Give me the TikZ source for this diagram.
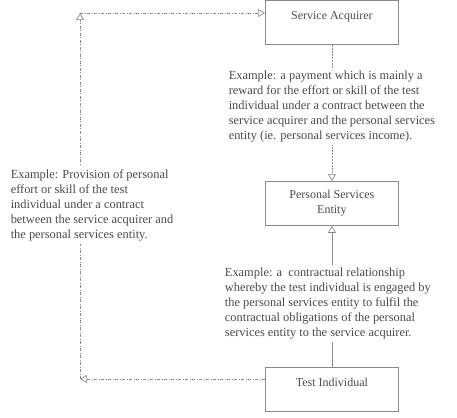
\documentclass[tikz,border=0pt]{standalone}
\usepackage{fontspec}
\setmainfont{Liberation Serif}
\usetikzlibrary{arrows.meta,calc}
\definecolor{txt}{HTML}{4A4A4A}
\definecolor{ln}{HTML}{8A8A8A}
\begin{document}
\begin{tikzpicture}[x=1pt,y=-1pt,
  box/.style={draw=ln,line width=0.8pt,minimum width=133pt,minimum height=44pt,inner sep=0pt,align=center,text=txt,font=\fontsize{12}{15}\selectfont,anchor=north west},
  lbl/.style={fill=white,align=left,text=txt,font=\fontsize{12.4}{15}\selectfont,inner sep=3pt},
  conn/.style={draw=ln,line width=0.7pt,-{Triangle[open,length=7pt,width=8pt]}},
  dd/.style={conn,dash pattern=on 3pt off 1.5pt on 1pt off 1.5pt}
]
\path[use as bounding box] (0,0) rectangle (457,417);
\node[box] (SA) at (265,0.5) {Service Acquirer\\\mbox{}};
\node[box] (PSE) at (265,181) {Personal Services\\Entity};
\node[box] (TI) at (265,367) {Test Individual\\\mbox{}};
\coordinate (c1) at (80,379);
\coordinate (c2) at (80,13);
\draw[conn,dash pattern=on 2pt off 1pt] (SA.south) -- node[lbl,pos=0.45] (L1) {Example: a payment which is mainly a\\reward for the effort or skill of the test\\individual under a contract between the\\service acquirer and the personal services\\entity (ie. personal services income).} (PSE.north);
\draw[conn] (TI.north) -- node[lbl,pos=0.45,xshift=-4pt] (L2) {Example: a\ \ contractual relationship\\whereby the test individual is engaged by\\the personal services entity to fulfil the\\contractual obligations of the personal\\services entity to the service acquirer.} (PSE.south);
\draw[dd] (TI.west |- c1) -- (c1);
\draw[dd] (c1) -- node[lbl,pos=0.475,xshift=12pt] (L3) {Example: Provision of personal\\effort or skill of the test\\individual under a contract\\between the service acquirer and\\the personal services entity.} (c2);
\draw[dd] (c2) -- (SA.west |- c2);
\end{tikzpicture}
\end{document}
